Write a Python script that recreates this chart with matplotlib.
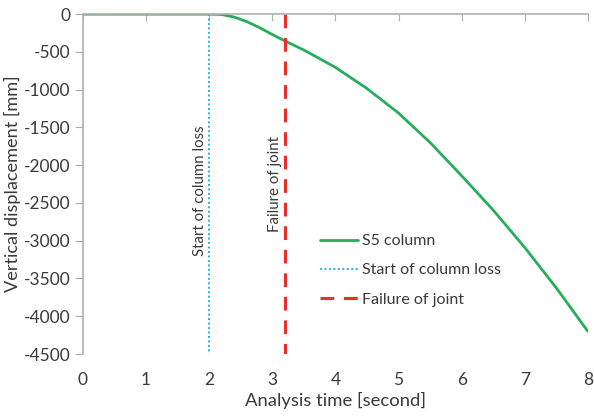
import matplotlib
matplotlib.use("Agg")
import matplotlib.pyplot as plt

plt.rcParams['font.family'] = ['Lato', 'DejaVu Sans']

time_s = [0, 1, 2.0, 2.2, 2.4, 2.6, 2.8, 3.0, 3.2, 3.5, 4.0, 4.5, 5.0, 5.5, 6.0, 6.5, 7.0, 7.5, 8.0]
disp_mm = [0, 0, 0, -5, -40, -100, -180, -270, -355, -475, -705, -985, -1310, -1700, -2140, -2595, -3090, -3625, -4200]
loss_t = 2.0
fail_t = 3.2
x_ticks = [0, 1, 2, 3, 4, 5, 6, 7, 8]
y_ticks = [0, -500, -1000, -1500, -2000, -2500, -3000, -3500, -4000, -4500]

txt = '#3a3a3a'
fig = plt.figure(figsize=(5.94, 4.16), dpi=100)
ax = fig.add_axes([0.1397, 0.149, 0.850, 0.817])

ax.plot(time_s, disp_mm, color='#27ae5a', lw=2.0, label='S5 column',
        solid_capstyle='round', solid_joinstyle='round')
ax.plot([loss_t, loss_t], [0, -4500], color='#1fb4f0', lw=1.4, ls=(0, (1, 1.3)), label='Start of column loss')
ax.plot([fail_t, fail_t], [0, -4500], color='#e8302a', lw=2.2, ls=(0, (4.5, 3.2)), label='Failure of joint')

ax.set_xlim(0, 8)
ax.set_ylim(-4500, 0)
ax.set_xticks(x_ticks)
ax.set_yticks(y_ticks)
ax.set_yticklabels([str(v) for v in y_ticks])

for s in ['right', 'bottom']:
    ax.spines[s].set_visible(False)
for s in ['left', 'top']:
    ax.spines[s].set_color('#b0b0b0')
    ax.spines[s].set_linewidth(1.2)

ax.tick_params(axis='x', top=True, bottom=False, labeltop=False, labelbottom=True,
               direction='in', length=5, color='#b0b0b0', labelsize=12.5, labelcolor=txt, pad=13)
ax.tick_params(axis='y', direction='out', length=6, color='#b0b0b0', labelsize=12.5, labelcolor=txt, pad=3)

ax.set_xlabel('Analysis time [second]', fontsize=13.3, color=txt, labelpad=3)
ax.set_ylabel('Vertical displacement [mm]', fontsize=13.1, color=txt)
ax.yaxis.set_label_coords(-0.122, 0.5)

ax.text(loss_t - 0.14, -2340, 'Start of column loss', rotation=90, ha='center', va='center',
        fontsize=10.8, color=txt)
ax.text(fail_t - 0.15, -2250, 'Failure of joint', rotation=90, ha='center', va='center',
        fontsize=10.8, color=txt)

leg = ax.legend(loc='upper left', bbox_to_anchor=(0.469, 0.353), frameon=False, fontsize=11.5,
                handlelength=2.4, handletextpad=0.25, labelspacing=0.94, labelcolor=txt,
                borderaxespad=0, borderpad=0)

fig.savefig('out.png', dpi=100)
